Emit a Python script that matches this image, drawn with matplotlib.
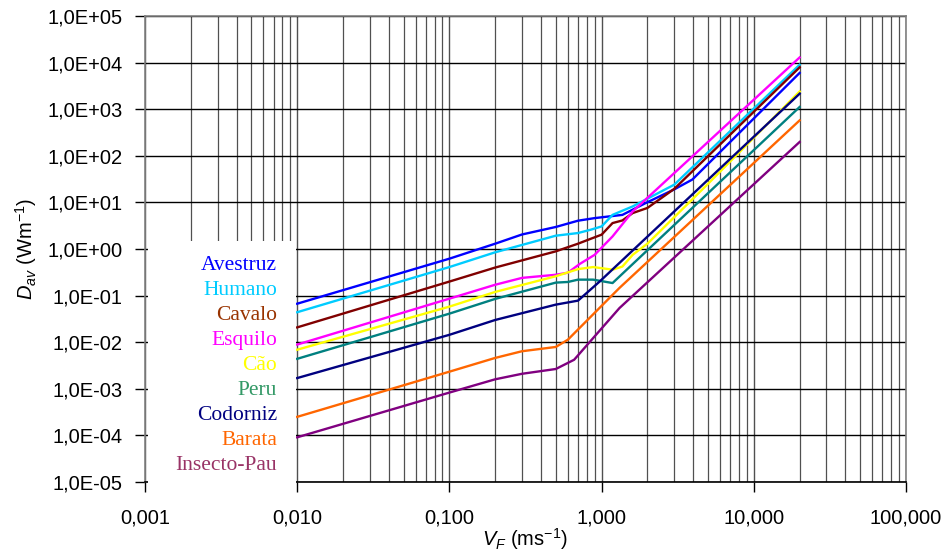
import matplotlib
matplotlib.use("Agg")
import matplotlib.pyplot as plt
from matplotlib.ticker import FixedLocator, LogLocator, NullFormatter, NullLocator

# Flight speed V_F (m/s) and average power D_av (W/m) for each animal
avestruz_v = [0.01, 0.1, 0.2, 0.3, 0.5, 0.7, 0.9, 1.37, 1.95, 3.0, 3.95, 20.0]
avestruz_d = [0.067, 0.62, 1.3, 2.05, 2.97, 4.05, 4.6, 5.4, 9.7, 19.0, 31.0, 6000.0]

humano_v = [0.01, 0.1, 0.2, 0.5, 0.7, 0.85, 1.0, 1.18, 1.6, 3.0, 20.0]
humano_d = [0.044, 0.41, 0.85, 1.93, 2.2, 2.6, 3.05, 5.4, 8.2, 24.0, 9000.0]

cavalo_v = [0.01, 0.1, 0.2, 0.5, 0.7, 0.85, 1.0, 1.18, 1.37, 1.6, 2.0, 3.0, 20.0]
cavalo_d = [0.0208, 0.20, 0.40, 0.89, 1.3, 1.66, 2.03, 3.6, 4.1, 5.9, 7.6, 19.5, 7900.0]

esquilo_v = [0.01, 0.1, 0.2, 0.3, 0.5, 0.6, 0.72, 0.9, 1.18, 1.6, 20.0]
esquilo_d = [0.0089, 0.086, 0.171, 0.24, 0.28, 0.31, 0.48, 0.75, 1.86, 6.4, 12900.0]

cao_v = [0.01, 0.1, 0.2, 0.5, 0.7, 0.88, 1.18, 1.37, 1.6, 2.0, 5.0, 20.0]
cao_d = [0.0069, 0.058, 0.12, 0.26, 0.37, 0.41, 0.36, 0.42, 0.75, 1.3, 25.0, 2400.0]

peru_v = [0.01, 0.1, 0.2, 0.5, 0.6, 0.7, 0.88, 1.18, 20.0]
peru_d = [0.0044, 0.041, 0.085, 0.19, 0.196, 0.22, 0.22, 0.186, 1115.0]

codorniz_v = [0.01, 0.1, 0.2, 0.5, 0.7, 0.97, 20.0]
codorniz_d = [0.0017, 0.0144, 0.030, 0.064, 0.078, 0.20, 2150.0]

barata_v = [0.01, 0.1, 0.2, 0.3, 0.5, 0.6, 1.31, 20.0]
barata_d = [0.00025, 0.00233, 0.0046, 0.0064, 0.0079, 0.0113, 0.146, 575.0]

insecto_v = [0.01, 0.1, 0.2, 0.3, 0.5, 0.66, 1.31, 20.0]
insecto_d = [0.000091, 0.00083, 0.0016, 0.0021, 0.00266, 0.0042, 0.054, 198.0]

names = ["Avestruz", "Humano", "Cavalo", "Esquilo", "Cão", "Peru",
         "Codorniz", "Barata", "Insecto-Pau"]
speeds = [avestruz_v, humano_v, cavalo_v, esquilo_v, cao_v, peru_v,
          codorniz_v, barata_v, insecto_v]
powers = [avestruz_d, humano_d, cavalo_d, esquilo_d, cao_d, peru_d,
          codorniz_d, barata_d, insecto_d]
line_colors = ["#0000FF", "#00CCFF", "#800000", "#FF00FF", "#FFFF00",
               "#008080", "#000080", "#FF6600", "#800080"]
text_colors = ["#0000FF", "#00CCFF", "#993300", "#FF00FF", "#FFFF00",
               "#339966", "#000080", "#FF6600", "#993366"]

x_ticks = [0.001, 0.01, 0.1, 1, 10, 100]
x_labels = ["0,001", "0,010", "0,100", "1,000", "10,000", "100,000"]
y_ticks = [1e-5, 1e-4, 1e-3, 1e-2, 1e-1, 1e0, 1e1, 1e2, 1e3, 1e4, 1e5]
y_labels = ["1,0E-05", "1,0E-04", "1,0E-03", "1,0E-02", "1,0E-01", "1,0E+00",
            "1,0E+01", "1,0E+02", "1,0E+03", "1,0E+04", "1,0E+05"]

sans = ["Liberation Sans", "DejaVu Sans"]
serif = ["Liberation Serif", "DejaVu Serif"]
plt.rcParams["mathtext.fontset"] = "custom"
plt.rcParams["mathtext.rm"] = "Liberation Sans"
plt.rcParams["mathtext.it"] = "Liberation Sans:italic"

fig = plt.figure(figsize=(9.51, 5.52), dpi=100)
ax = fig.add_axes([145 / 951, 1 - 482 / 552, 761 / 951, 466 / 552])
ax.set_xscale("log")
ax.set_yscale("log")
ax.set_xlim(0.001, 100)
ax.set_ylim(1e-5, 1e5)

# grid: vertical at every decade and subdivision, horizontal at decades only
ax.xaxis.set_major_locator(FixedLocator(x_ticks))
ax.xaxis.set_minor_locator(LogLocator(base=10, subs=range(2, 10), numticks=20))
ax.xaxis.set_minor_formatter(NullFormatter())
ax.yaxis.set_major_locator(FixedLocator(y_ticks))
ax.yaxis.set_minor_locator(NullLocator())
ax.set_xticklabels(x_labels, fontfamily=sans, fontsize=14.5)
ax.set_yticklabels(y_labels, fontfamily=sans, fontsize=14.5)
ax.grid(True, which="major", axis="x", color="#505050", lw=1.0)
ax.grid(True, which="minor", axis="x", color="#505050", lw=0.9)
ax.grid(True, which="major", axis="y", color="#000000", lw=1.0)
ax.set_axisbelow(True)

ax.tick_params(axis="both", which="major", direction="out", length=7,
               width=1.0, color="#000000")
ax.tick_params(axis="y", which="major", pad=9)
ax.tick_params(axis="x", which="major", pad=12)
ax.tick_params(axis="x", which="minor", length=0)

for side in ["top", "right", "left"]:
    ax.spines[side].set_color("#808080")
    ax.spines[side].set_linewidth(1.2)
ax.spines["bottom"].set_color("#000000")
ax.spines["bottom"].set_linewidth(1.2)

for v, d, c in zip(speeds, powers, line_colors):
    ax.plot(v, d, color=c, lw=1.7, solid_joinstyle="round", zorder=3)

# axis titles
fig.text(525 / 951, 1 - 539 / 552, r"$V_F$ (ms$^{-1}$)", fontfamily=sans,
         fontsize=14.5, ha="center", va="center")
fig.text(26 / 951, 1 - 249 / 552, r"$D_{av}$ (Wm$^{-1}$)", fontfamily=sans,
         fontsize=14.5, ha="center", va="center", rotation=90)

# legend panel: white box with coloured, right-aligned names
box = plt.Rectangle((148 / 951, 1 - 487 / 552), 148 / 951, 246 / 552,
                    transform=fig.transFigure, facecolor="white",
                    edgecolor="none", zorder=5)
fig.add_artist(box)
y0 = 265
for i, (name, c) in enumerate(zip(names, text_colors)):
    fig.text(277 / 951, 1 - (y0 + i * 25.1) / 552, name, color=c,
             fontfamily=serif, fontsize=15.5, ha="right", va="center", zorder=6)

fig.savefig("out.png", dpi=100)
